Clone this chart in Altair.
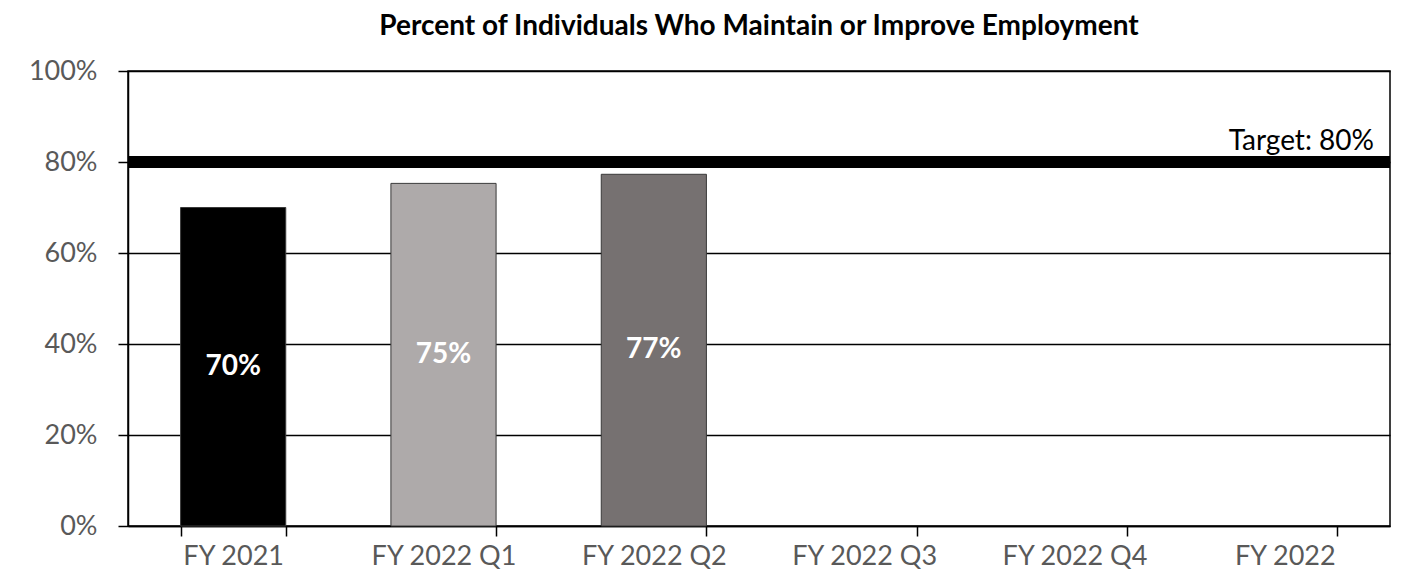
import altair as alt
import pandas as pd

categories = ["FY 2021", "FY 2022 Q1", "FY 2022 Q2", "FY 2022 Q3", "FY 2022 Q4", "FY 2022"]
bar_categories = ["FY 2021", "FY 2022 Q1", "FY 2022 Q2"]
bar_values = [0.70, 0.753, 0.773]
bar_labels = ["70%", "75%", "77%"]
bar_colors = ["#000000", "#AEAAAA", "#767171"]
target_value = 0.80
target_label = "Target: 80%"
y_ticks = [0, 0.2, 0.4, 0.6, 0.8, 1.0]

FONT = "Lato"

df = pd.DataFrame({"cat": bar_categories, "value": bar_values, "label": bar_labels})
tdf = pd.DataFrame({"value": [target_value], "label": [target_label]})

x_enc = alt.X(
    "cat:N",
    scale=alt.Scale(domain=categories, paddingInner=0.5, paddingOuter=0.25),
    sort=categories,
    axis=alt.Axis(
        title=None, labelAngle=0, tickBand="extent", tickSize=10, tickColor="black",
        tickWidth=1.5, domainColor="black", domainWidth=1.5, labelColor="#595959",
        labelFontSize=27, labelPadding=7, labelFont=FONT, grid=False,
    ),
)
y_scale = alt.Scale(domain=[0, 1], nice=False)

bars = alt.Chart(df).mark_bar(stroke="#3a3a3a", strokeWidth=1).encode(
    x=x_enc,
    y=alt.Y(
        "value:Q", scale=y_scale,
        axis=alt.Axis(
            title=None, values=y_ticks, format=".0%", grid=True, gridColor="black",
            gridWidth=1.5, tickSize=10, tickColor="black", tickWidth=1.5,
            domainColor="black", domainWidth=1.5, labelColor="#595959",
            labelFontSize=27, labelPadding=21, labelFont=FONT,
        ),
    ),
    color=alt.Color("cat:N", scale=alt.Scale(domain=bar_categories, range=bar_colors), legend=None),
)

labels = alt.Chart(df).transform_calculate(mid="datum.value / 2").mark_text(
    color="white", fontWeight="bold", fontSize=28, font=FONT, baseline="middle"
).encode(
    x=alt.X("cat:N", scale=alt.Scale(domain=categories), sort=categories),
    y=alt.Y("mid:Q", scale=y_scale),
    text="label:N",
)

target = alt.Chart(tdf).mark_rule(color="black", strokeWidth=12).encode(
    y=alt.Y("value:Q", scale=y_scale),
)

target_text = alt.Chart(tdf).mark_text(
    align="right", baseline="alphabetic", fontSize=28, font=FONT, color="black", dy=-12
).encode(
    x=alt.value(1246),
    y=alt.Y("value:Q", scale=y_scale),
    text="label:N",
)

chart = alt.layer(bars, labels, target, target_text).properties(
    width=1262,
    height=455,
    title=alt.TitleParams(
        "Percent of Individuals Who Maintain or Improve Employment",
        font=FONT, fontSize=28, fontWeight="bold", color="black", offset=16, anchor="middle",
    ),
    autosize=alt.AutoSizeParams(type="none"),
    padding={"left": 120, "top": 63, "right": 4, "bottom": 49},
).configure_view(stroke="black", strokeWidth=1.5)

chart.save("out.html", embed_options={"renderer": "svg", "actions": False})
